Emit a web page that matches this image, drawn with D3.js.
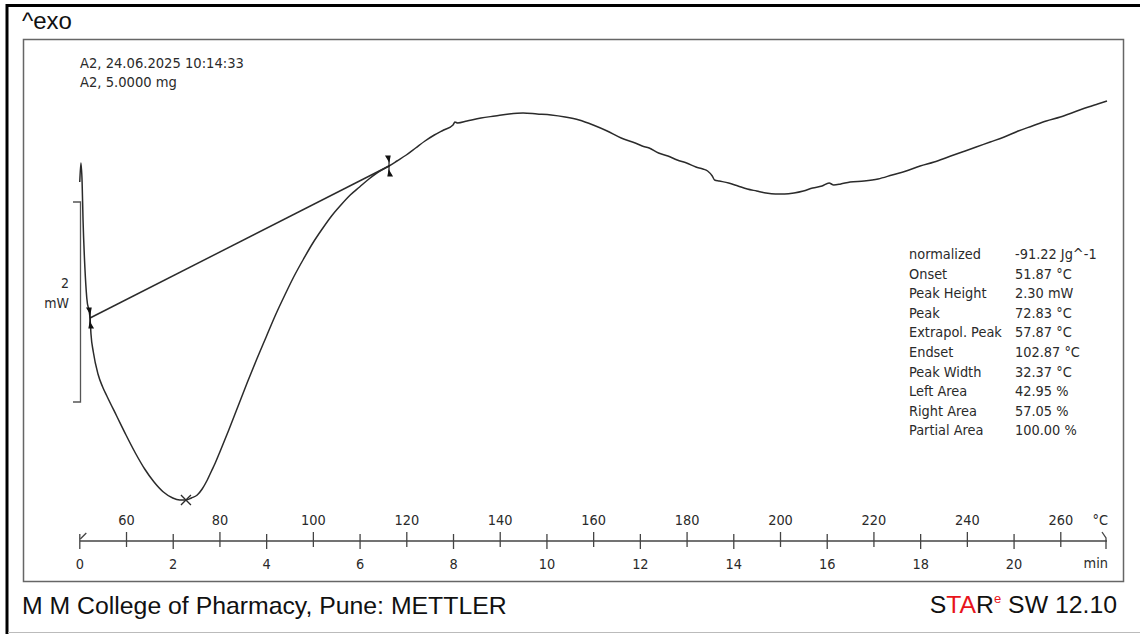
<!DOCTYPE html>
<html>
<head>
<meta charset="utf-8">
<script src="https://cdn.jsdelivr.net/npm/d3@7"></script>
<style>
  html, body { margin: 0; padding: 0; background: #fff; }
  svg { display: block; }
</style>
</head>
<body>
<svg id="chart" width="1140" height="634"></svg>
<script>
// DSC heating run, 10 K/min, 50 -> 270 °C
const curveTemp = [
  50.1, 50.35, 50.6, 50.8, 51.2, 51.6, 52.3, 52.5, 53.0, 54.0, 55.0, 56.0, 58.0, 60.0,
  62.0, 64.0, 66.0, 68.0, 70.0, 71.5, 72.83, 74.0, 75.25, 76.3, 77.4, 78.3, 79.1, 80.0,
  82.0, 84.0, 86.0, 88.0, 90.0, 92.0, 94.0, 96.0, 98.0, 100.0, 102.0, 104.0, 106.0,
  108.0, 110.0, 112.0, 114.0, 116.3, 118.0, 120.0, 122.0, 124.0, 126.0, 128.0, 130.0,
  130.4, 131.0, 133.0, 136.0, 139.0, 142.0, 145.0, 148.0, 151.0, 154.0, 157.0, 160.0,
  163.0, 166.0, 169.0, 170.5, 172.0, 174.0, 176.0, 178.0, 180.0, 182.0, 183.5, 184.5,
  185.5, 186.0, 187.0, 189.0, 191.0, 193.0, 195.0, 197.0, 199.0, 201.0, 203.0, 205.0,
  207.0, 209.0, 210.5, 211.5, 213.0, 215.0, 218.0, 221.0, 224.0, 227.0, 230.0, 233.0,
  236.0, 239.0, 242.0, 245.0, 248.0, 251.0, 254.0, 257.0, 260.0, 263.0, 266.0, 268.0, 270.0
];
const curveHeatFlow = [
  1.58, 1.77, 1.58, 1.20, 0.72, 0.42, 0.22, 0.06, -0.12, -0.34, -0.47, -0.57, -0.76, -0.95,
  -1.13, -1.29, -1.42, -1.52, -1.58, -1.60, -1.60, -1.58, -1.55, -1.49, -1.40, -1.31, -1.23, -1.13,
  -0.90, -0.66, -0.42, -0.19, 0.03, 0.25, 0.45, 0.64, 0.81, 0.97, 1.11, 1.24, 1.35,
  1.45, 1.53, 1.61, 1.68, 1.74, 1.79, 1.85, 1.92, 1.99, 2.05, 2.10, 2.15,
  2.18, 2.17, 2.19, 2.22, 2.24, 2.26, 2.27, 2.26, 2.25, 2.23, 2.20, 2.15,
  2.09, 2.02, 1.97, 1.94, 1.92, 1.87, 1.84, 1.80, 1.77, 1.73, 1.71, 1.69,
  1.64, 1.60, 1.59, 1.57, 1.54, 1.51, 1.49, 1.47, 1.46, 1.46, 1.47, 1.49,
  1.52, 1.54, 1.57, 1.55, 1.56, 1.58, 1.59, 1.61, 1.65, 1.69, 1.74, 1.78,
  1.83, 1.88, 1.93, 1.98, 2.03, 2.09, 2.14, 2.19, 2.23, 2.28, 2.33, 2.36, 2.39
];

const tempDomain = [50, 270];
const timeDomain = [0, 22];
const tempTicks = [60, 80, 100, 120, 140, 160, 180, 200, 220, 240, 260];
const timeTicks = [0, 2, 4, 6, 8, 10, 12, 14, 16, 18, 20];

const integrationLimits = [52.3, 116.3];
const peakTemp = 72.83;
const peakHeatFlow = -1.60;
const scaleBarHeatFlow = [-0.62, 1.38];
const scaleBarLabels = ["2", "mW"];

const headerLines = ["A2, 24.06.2025 10:14:33", "A2, 5.0000 mg"];
const resultLabels = ["normalized", "Onset", "Peak Height", "Peak", "Extrapol. Peak",
  "Endset", "Peak Width", "Left Area", "Right Area", "Partial Area"];
const resultValues = ["-91.22 Jg^-1", "51.87 °C", "2.30 mW", "72.83 °C", "57.87 °C",
  "102.87 °C", "32.37 °C", "42.95 %", "57.05 %", "100.00 %"];

const chartFont = "'DejaVu Sans Condensed', 'DejaVu Sans', sans-serif";
const frameFont = "'Liberation Sans', Arial, sans-serif";
const ink = "#2a2a2a";

const svg = d3.select("#chart");

// outer report frame
svg.append("line").attr("x1", 7).attr("x2", 7).attr("y1", 4).attr("y2", 634)
  .attr("stroke", "#000").attr("stroke-width", 3);
svg.append("line").attr("x1", 6).attr("x2", 1140).attr("y1", 5.5).attr("y2", 5.5)
  .attr("stroke", "#000").attr("stroke-width", 3);
svg.append("line").attr("x1", 8).attr("x2", 1140).attr("y1", 632.5).attr("y2", 632.5)
  .attr("stroke", "#bbb").attr("stroke-width", 1);

// plot frame
svg.append("rect").attr("x", 23.5).attr("y", 39.5).attr("width", 1100).attr("height", 542)
  .attr("fill", "none").attr("stroke", "#666").attr("stroke-width", 1.5);

svg.append("text").attr("x", 22).attr("y", 29).text("^exo")
  .attr("font-family", frameFont).attr("font-size", 24).attr("fill", "#111");

svg.append("text").attr("x", 22).attr("y", 614).text("M M College of Pharmacy, Pune: METTLER")
  .attr("font-family", frameFont).attr("font-size", 24.8).attr("fill", "#111");

const star = svg.append("text").attr("x", 1117).attr("y", 613).attr("text-anchor", "end")
  .attr("font-family", frameFont).attr("font-size", 24.8).attr("fill", "#111");
star.append("tspan").text("S");
star.append("tspan").text("TA").attr("fill", "#e8141b");
star.append("tspan").text("R");
star.append("tspan").text("e").attr("fill", "#e8141b").attr("font-size", 13).attr("dy", -10);
star.append("tspan").text(" SW 12.10").attr("dy", 10);

// scales
const x = d3.scaleLinear().domain(tempDomain).range([79.3, 1107]);
const xTime = d3.scaleLinear().domain(timeDomain).range([79.3, 1107]);
const y = d3.scaleLinear().domain([-2.2, 3.2]).range([560, 20]);

// header
svg.append("g").selectAll("text").data(headerLines).join("text")
  .attr("x", 80).attr("y", (d, i) => 68 + i * 19).text(d => d)
  .attr("font-family", chartFont).attr("font-size", 14.6).attr("fill", ink);

// heat flow scale bar
const sb = svg.append("g").attr("stroke", "#555").attr("stroke-width", 1.3).attr("fill", "none");
sb.append("path").attr("d",
  `M73,${y(scaleBarHeatFlow[1])}H80.5V${y(scaleBarHeatFlow[0])}H73`);
svg.append("g").selectAll("text").data(scaleBarLabels).join("text")
  .attr("x", 69).attr("y", (d, i) => 288 + i * 20).attr("text-anchor", "end").text(d => d)
  .attr("font-family", chartFont).attr("font-size", 14).attr("fill", ink);

// measured curve
const line = d3.line().x(d => x(d[0])).y(d => y(d[1])).curve(d3.curveMonotoneX);
const pts = curveTemp.map((t, i) => [t, curveHeatFlow[i]]);
svg.append("path").datum(pts).attr("d", line)
  .attr("fill", "none").attr("stroke", "#2b2b2b").attr("stroke-width", 1.5)
  .attr("stroke-linejoin", "round");

// integration baseline between limits
const bis = d3.bisector(d => d[0]).left;
function heatFlowAt(t) {
  const i = Math.max(1, Math.min(pts.length - 1, bis(pts, t)));
  const a = pts[i - 1], b = pts[i];
  return a[1] + (b[1] - a[1]) * (t - a[0]) / (b[0] - a[0]);
}
const basePts = integrationLimits.map(t => [t, heatFlowAt(t)]);
svg.append("path").datum(basePts).attr("d", d3.line().x(d => x(d[0])).y(d => y(d[1])))
  .attr("stroke", "#2b2b2b").attr("stroke-width", 1.5).attr("fill", "none");

// limit markers
basePts.forEach(([t, v]) => {
  const cx = x(t), cy = y(v);
  const g = svg.append("g").attr("fill", "#111").attr("stroke", "#111").attr("stroke-width", 1.2);
  g.append("line").attr("x1", cx).attr("x2", cx).attr("y1", cy - 9).attr("y2", cy + 9);
  g.append("path").attr("d", `M${cx - 3},${cy - 10}L${cx + 1},${cy - 10}L${cx},${cy - 5}Z`);
  g.append("path").attr("d", `M${cx - 1},${cy + 10}L${cx + 3},${cy + 10}L${cx},${cy + 5}Z`);
});

// peak cross
const px = x(peakTemp), py = y(peakHeatFlow);
svg.append("path").attr("d", `M${px - 5},${py - 5}L${px + 5},${py + 5}M${px - 5},${py + 5}L${px + 5},${py - 5}`)
  .attr("stroke", "#2b2b2b").attr("stroke-width", 1.3);

// results table
const res = svg.append("g").attr("font-family", chartFont).attr("font-size", 14.4).attr("fill", ink);
res.selectAll("text.lbl").data(resultLabels).join("text").attr("class", "lbl")
  .attr("x", 909).attr("y", (d, i) => 259 + i * 19.6).text(d => d);
res.selectAll("text.val").data(resultValues).join("text").attr("class", "val")
  .attr("x", 1015).attr("y", (d, i) => 259 + i * 19.6).text(d => d);

// x axes: temperature (above) and time (below)
const axisY = 541;
const axisColor = "#444";
svg.append("line").attr("x1", 80).attr("x2", 1107).attr("y1", axisY).attr("y2", axisY)
  .attr("stroke", axisColor).attr("stroke-width", 1.5);

const tAxis = svg.append("g").attr("transform", `translate(0,${axisY})`)
  .call(d3.axisTop(x).tickValues(tempTicks).tickFormat(d3.format("d")).tickSize(9).tickPadding(7));
tAxis.select(".domain").remove();
tAxis.selectAll(".tick line").attr("y2", -9).attr("y1", 6).attr("stroke", axisColor).attr("stroke-width", 1.3);
tAxis.selectAll(".tick text").attr("font-family", chartFont).attr("font-size", 14.4).attr("fill", ink);

const mAxis = svg.append("g").attr("transform", `translate(0,${axisY})`)
  .call(d3.axisBottom(xTime).tickValues(timeTicks).tickFormat(d3.format("d")).tickSize(8).tickPadding(10));
mAxis.select(".domain").remove();
mAxis.selectAll(".tick line").attr("y1", -7).attr("y2", 8).attr("stroke", axisColor).attr("stroke-width", 1.3);
mAxis.selectAll(".tick text").attr("font-family", chartFont).attr("font-size", 14.4).attr("fill", ink);

// axis end marks
const x0 = x(tempDomain[0]) + 1, x1 = x(tempDomain[1]) - 1;
svg.append("path").attr("d", `M${x0},${axisY - 2}L${x0 + 6},${axisY - 8}`)
  .attr("stroke", axisColor).attr("stroke-width", 1.3).attr("fill", "none");
svg.append("path").attr("d", `M${x1 - 4},${axisY - 9}L${x1},${axisY - 3}V${axisY + 8}`)
  .attr("stroke", axisColor).attr("stroke-width", 1.3).attr("fill", "none");

svg.append("text").attr("x", 1108).attr("y", 525).attr("text-anchor", "end").text("°C")
  .attr("font-family", chartFont).attr("font-size", 14.4).attr("fill", ink);
svg.append("text").attr("x", 1108).attr("y", 568).attr("text-anchor", "end").text("min")
  .attr("font-family", chartFont).attr("font-size", 14.4).attr("fill", ink);
</script>
</body>
</html>
